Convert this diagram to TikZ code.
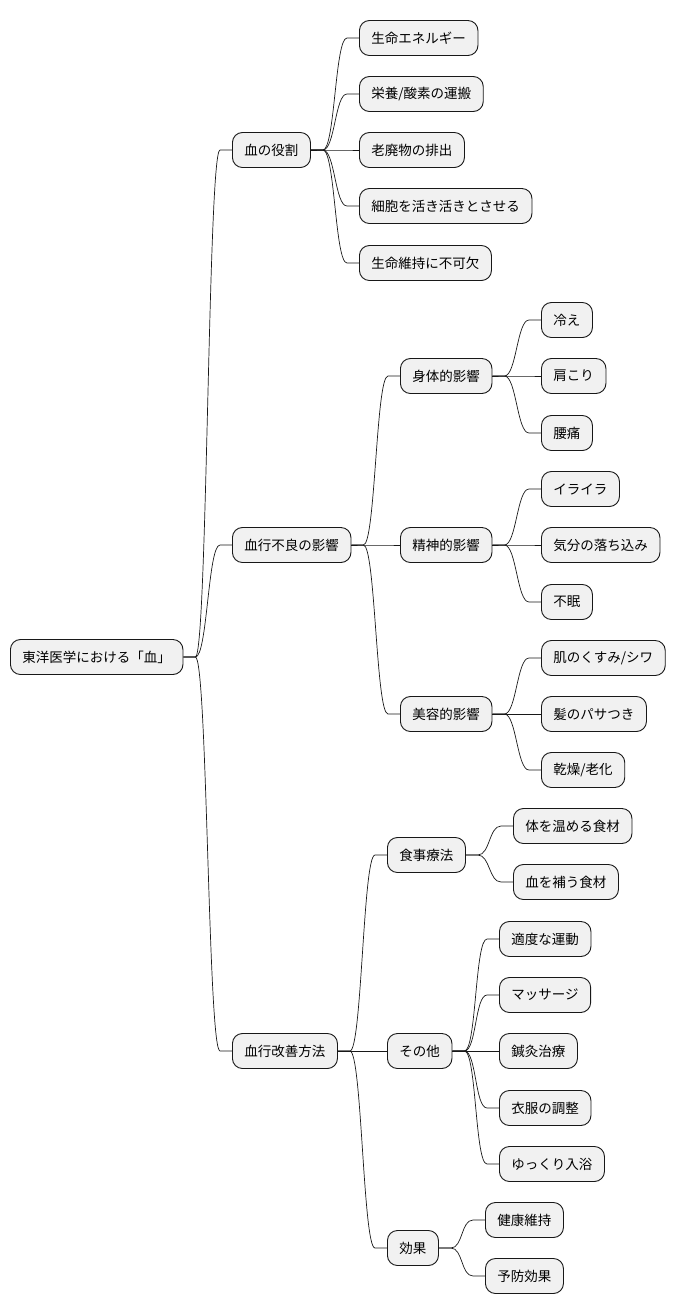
\documentclass[tikz,border=0pt]{standalone}
\usepackage{fontspec}
\setmainfont{Noto Sans CJK JP}
\usetikzlibrary{positioning, calc}

\definecolor{boxfill}{HTML}{F1F1F1}
\definecolor{boxline}{HTML}{181818}

\tikzset{
    topic/.style={draw=boxline, line width=0.9pt, fill=boxfill, rounded corners=10pt,
        anchor=west, inner xsep=12pt, inner ysep=0pt, minimum height=35pt,
        font=\fontsize{13.5}{16}\selectfont},
    link/.style={draw=boxline, line width=0.7pt}
}

\begin{document}
\begin{tikzpicture}[x=1pt, y=-1pt]
    \useasboundingbox (0,0) rectangle (675,1315);
    % root and first level
    \node[topic] (root) at (10,657) {東洋医学における「血」};
    \node[topic] (yakuwari) at (232,150) {血の役割};
    \node[topic] (furyo) at (232,545) {血行不良の影響};
    \node[topic] (kaizen) at (232,1051) {血行改善方法};
    % role of blood
    \node[topic] (energy) at (359,38) {生命エネルギー};
    \node[topic] (unpan) at (359,94) {栄養/酸素の運搬};
    \node[topic] (haishutsu) at (359,150) {老廃物の排出};
    \node[topic] (saibo) at (359,206) {細胞を活き活きとさせる};
    \node[topic] (iji) at (359,263) {生命維持に不可欠};
    % effects of poor circulation
    \node[topic] (shintai) at (400,376) {身体的影響};
    \node[topic] (seishin) at (400,545) {精神的影響};
    \node[topic] (biyo) at (400,714) {美容的影響};
    \node[topic] (hie) at (541,320) {冷え};
    \node[topic] (katakori) at (541,376) {肩こり};
    \node[topic] (yotsu) at (541,433) {腰痛};
    \node[topic] (iraira) at (541,489) {イライラ};
    \node[topic] (ochikomi) at (541,545) {気分の落ち込み};
    \node[topic] (fumin) at (541,602) {不眠};
    \node[topic] (hada) at (541,658) {肌のくすみ/シワ};
    \node[topic] (kami) at (541,714) {髪のパサつき};
    \node[topic] (kanso) at (541,770) {乾燥/老化};
    % ways to improve
    \node[topic] (shokuji) at (387,855) {食事療法};
    \node[topic] (sonota) at (387,1051) {その他};
    \node[topic] (koka) at (387,1248) {効果};
    \node[topic] (atatame) at (513,826) {体を温める食材};
    \node[topic] (oginau) at (513,882) {血を補う食材};
    \node[topic] (undo) at (499,939) {適度な運動};
    \node[topic] (massage) at (499,995) {マッサージ};
    \node[topic] (shinkyu) at (499,1051) {鍼灸治療};
    \node[topic] (ifuku) at (499,1108) {衣服の調整};
    \node[topic] (nyuyoku) at (499,1164) {ゆっくり入浴};
    \node[topic] (kenko) at (485,1220) {健康維持};
    \node[topic] (yobo) at (485,1276) {予防効果};

    \foreach \p/\c in {root/yakuwari, root/furyo, root/kaizen,
        yakuwari/energy, yakuwari/unpan, yakuwari/haishutsu, yakuwari/saibo, yakuwari/iji,
        furyo/shintai, furyo/seishin, furyo/biyo,
        shintai/hie, shintai/katakori, shintai/yotsu,
        seishin/iraira, seishin/ochikomi, seishin/fumin,
        biyo/hada, biyo/kami, biyo/kanso,
        kaizen/shokuji, kaizen/sonota, kaizen/koka,
        shokuji/atatame, shokuji/oginau,
        sonota/undo, sonota/massage, sonota/shinkyu, sonota/ifuku, sonota/nyuyoku,
        koka/kenko, koka/yobo} {
        \draw[link] (\p.east) -- ++(12pt,0)
            .. controls ($(\p.east)+(24pt,0)$) and ($(\c.west)+(-24pt,0)$) ..
            ($(\c.west)+(-12pt,0)$) -- (\c.west);
    }
\end{tikzpicture}
\end{document}
